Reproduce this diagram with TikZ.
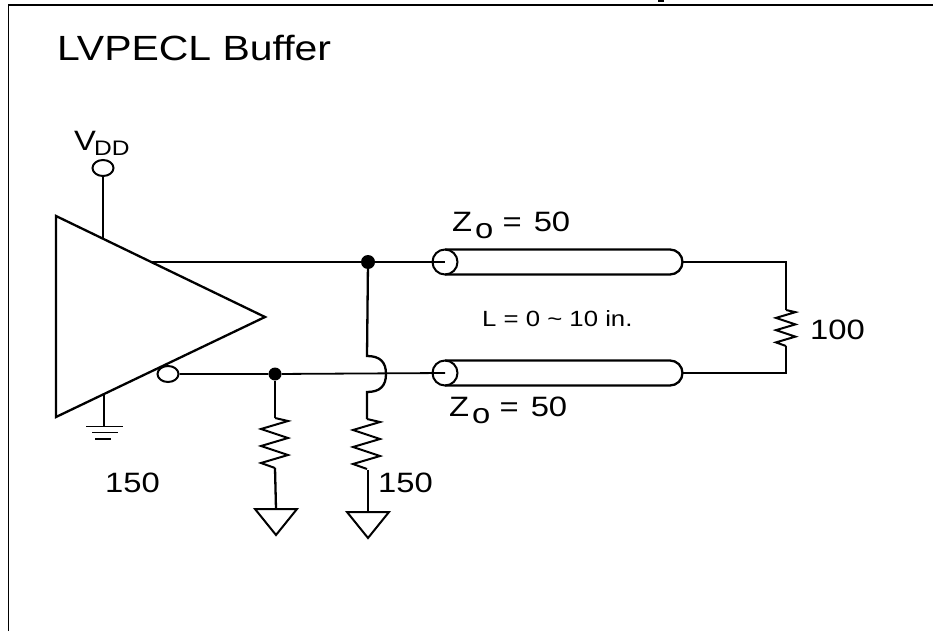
\documentclass[tikz,border=0pt]{standalone}
\usepackage{fontspec}
\setmainfont[FakeStretch=1.17]{Liberation Sans}
\usetikzlibrary{shapes.geometric}
\tikzset{
    x=1pt, y=-1pt,
    wire/.style={line width=1.8pt},
    lead/.style={line width=2.3pt},
    pin/.style={draw, ellipse, line width=2pt, minimum width=21pt, minimum height=16pt, inner sep=0pt, fill=white},
    joint/.style={circle, fill=black, minimum size=14pt, inner sep=0pt},
    label/.style={anchor=base west, inner sep=0pt, font=\fontsize{28}{28}\selectfont},
    resistor/.pic={
        \draw[line join=miter, line width=2pt] (0,0) -- (13,3) -- (-14,11) -- (13,20) -- (-14,28) -- (13,37) -- (-14,45) -- (0,50);
    },
    earth/.pic={
        \draw[line width=2pt, line join=miter] (-21,0) -- (21,0) -- (0,26) -- cycle;
    }
}
\begin{document}
\begin{tikzpicture}
\useasboundingbox (0,0) rectangle (933,631);

% Frame of the slide
\draw[line width=1.3pt] (8.5,631) -- (8.5,5) -- (933,5);
\fill (658,0) rectangle (664,2);

% Title
\node[anchor=base west, inner sep=0pt, font=\fontsize{35}{35}\selectfont] (title) at (57,61) {LVPECL Buffer};

% Buffer
\coordinate (triTop) at (56,216);
\coordinate (triBot) at (56,417);
\coordinate (triTip) at (265,317);
\draw[line width=2.3pt, line join=miter] (triTop) -- (triTip) -- (triBot) -- cycle;

% Supply pin
\node[pin] (vdd) at (103,168) {};
\coordinate (vddEnd) at (103,239);
\draw[lead] (vdd) -- (vddEnd);
\node[label] (vddLabel) at (74,151) {V\kern-2pt\raisebox{-5pt}{\fontsize{21}{21}\selectfont DD}};

% Ground under the buffer
\coordinate (gndTop) at (104,394);
\coordinate (gndEnd) at (104,427);
\draw[lead] (gndTop) -- (gndEnd);
\draw[wire] (86,426.5) -- (123,426.5);
\draw[wire] (92,432.5) -- (118,432.5);
\draw[wire] (95,439) -- (111,439);

% Coax lines
\foreach \name/\yy in {top/262, bot/373} {
    \coordinate (\name In) at (445,\yy);
    \coordinate (\name Out) at (682,\yy);
    \draw[lead] (445,\yy-12.5) -- (670,\yy-12.5) arc[start angle=-90, end angle=90, radius=12.5] -- (445,\yy+12.5);
    \draw[line width=2pt] (445,\yy-12.5) arc[start angle=-90, end angle=270, radius=12.5];
}

% Outputs
\coordinate (outTop) at (150,262);
\node[joint] (dotTop) at (368,262) {};
\draw[wire] (outTop) -- (dotTop) -- (topIn);
\node[pin] (outBot) at (168,374) {};
\node[joint, minimum size=13pt] (dotBot) at (275,374) {};
\draw[wire] (outBot) -- (dotBot) -- (botIn);

% Left pull-down
\coordinate (resA) at (275,418);
\coordinate (resAEnd) at (275,468);
\coordinate (earthA) at (276,509);
\draw[lead] (dotBot) -- (resA);
\pic at (resA) {resistor};
\draw[lead] (resAEnd) -- (earthA);
\pic at (earthA) {earth};

% Right pull-down, hops over the lower wire
\coordinate (hopTop) at (367,356);
\coordinate (hopBot) at (367,392);
\coordinate (resB) at (367,419);
\coordinate (resBEnd) at (368,470);
\coordinate (earthB) at (368,512);
\draw[lead] (dotTop) -- (hopTop) .. controls (380,356) and (386,362) .. (386,374) .. controls (386,386) and (380,392) .. (hopBot) -- (resB);
\pic at (resB) {resistor};
\draw[lead] (resBEnd) -- (earthB);
\pic at (earthB) {earth};

% Termination
\coordinate (termTop) at (786,262);
\coordinate (termBot) at (786,373);
\coordinate (resC) at (786,310);
\coordinate (resCEnd) at (786,346);
\draw[wire] (topOut) -- (termTop) -- (resC);
\pic[scale=0.72] at (resC) {resistor};
\draw[wire] (resCEnd) -- (termBot) -- (botOut);

% Labels
\node[label] (zTop) at (452,231) {Z\kern3pt\raisebox{-7pt}{o} = \kern3pt50};
\node[label] (zBot) at (449,416) {Z\kern3pt\raisebox{-7pt}{o} = \kern3pt50};
\node[label, font=\fontsize{22}{22}\selectfont] (len) at (482,326) {L = 0 \textasciitilde{} 10 in.};
\node[label] (rTerm) at (810,339) {100};
\node[label] (rLeft) at (105,492) {150};
\node[label] (rRight) at (378,492) {150};

\end{tikzpicture}
\end{document}
